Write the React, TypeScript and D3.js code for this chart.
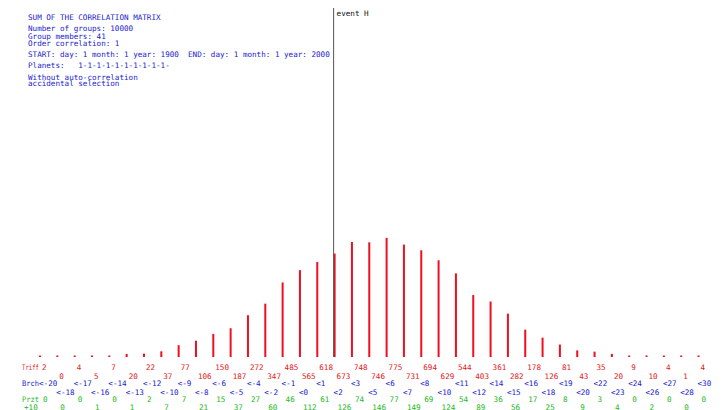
import React, { useEffect, useRef } from 'react';
import * as d3 from 'd3';

// hit counts per class (Triff), class upper bound (Brch) and Przt row
const triff = [2, 0, 4, 5, 7, 20, 22, 37, 77, 106, 150, 187, 272, 347, 485, 565, 618, 673, 748, 746,
  775, 731, 694, 629, 544, 403, 361, 282, 178, 126, 81, 43, 35, 20, 9, 10, 4, 1, 4];
const brch = [-20, -18, -17, -16, -14, -13, -12, -10, -9, -8, -6, -5, -4, -2, -1, 0, 1, 2, 3, 5,
  6, 7, 8, 10, 11, 12, 14, 15, 16, 18, 19, 20, 22, 23, 24, 26, 27, 28, 30];
const przt = [0, 0, 0, 1, 0, 1, 2, 7, 7, 21, 15, 37, 27, 60, 46, 112, 61, 126, 74, 146,
  77, 149, 69, 124, 54, 89, 36, 56, 17, 25, 8, 9, 3, 4, 0, 2, 0, 0, 0];

const headerLines = [
  'SUM OF THE CORRELATION MATRIX',
  'Number of groups: 10000',
  'Group members: 41',
  'Order correlation: 1',
  'START: day: 1 month: 1 year: 1900  END: day: 1 month: 1 year: 2000',
  'Planets:   1-1-1-1-1-1-1-1-1-1-',
  'Without auto-correlation',
  'accidental selection',
];
const headerY = [19.5, 31, 38.5, 45.5, 56.5, 68, 79.5, 85.5];

const eventIndex = 17;
const eventLabel = 'event H';

const App = () => {
  const svgRef = useRef(null);

  useEffect(() => {
    const svg = d3.select(svgRef.current);
    svg.selectAll('*').remove();

    const font = 'DejaVu Sans Mono, monospace';
    const fs = 7.6;
    const base = 357;

    const x = d3.scaleLinear().domain([0, triff.length - 1]).range([40, 40 + 38 * 17.33]);
    const y = d3.scaleLinear().domain([0, 800]).range([base, base - 123]);

    svg.append('rect').attr('width', 724).attr('height', 410).attr('fill', '#fff');

    // header text
    svg.selectAll('.hdr')
      .data(headerLines)
      .join('text')
      .attr('class', 'hdr')
      .attr('x', 28)
      .attr('y', (d, i) => headerY[i])
      .attr('fill', '#1a1ad0')
      .style('font-family', font)
      .style('font-size', fs + 'px')
      .style('white-space', 'pre')
      .text(d => d);

    // bars
    svg.selectAll('.bar')
      .data(triff)
      .join('rect')
      .attr('class', 'bar')
      .attr('x', (d, i) => x(i) - 1)
      .attr('y', d => Math.min(y(d), base - 1.5))
      .attr('width', 2)
      .attr('height', d => Math.max(base - y(d), 1.5))
      .attr('fill', '#ee1020');

    // event line
    svg.append('line')
      .attr('x1', x(eventIndex) - 1)
      .attr('x2', x(eventIndex) - 1)
      .attr('y1', 8)
      .attr('y2', base)
      .attr('stroke', '#555')
      .attr('stroke-width', 1);
    svg.append('text')
      .attr('x', x(eventIndex) + 2)
      .attr('y', 15.5)
      .attr('fill', '#111')
      .style('font-family', font)
      .style('font-size', fs + 'px')
      .text(eventLabel);

    // label rows
    const rows = [
      { name: 'Triff', data: triff, color: '#e01818', y: [370, 378.5], dx: 2, fmt: (v) => String(v) },
      { name: 'Brch', data: brch, color: '#1a1ad0', y: [386, 395], dx: -1, fmt: (v) => '<' + v },
      { name: 'Przt', data: przt, color: '#22b822', y: [401.5, 410], dx: 3, fmt: (v) => String(v) },
    ];

    rows.forEach((r, k) => {
      const g = svg.append('g')
        .attr('fill', r.color)
        .style('font-family', font)
        .style('font-size', fs + 'px');
      g.append('text').attr('x', 22).attr('y', r.y[0])
        .attr('textLength', 17).attr('lengthAdjust', 'spacingAndGlyphs')
        .text(r.name);
      if (k === 2) g.append('text').attr('x', 24).attr('y', r.y[1]).text('+10');
      g.selectAll('.lbl')
        .data(r.data)
        .join('text')
        .attr('class', 'lbl')
        .attr('x', (d, i) => x(i) + r.dx)
        .attr('y', (d, i) => r.y[i % 2])
        .text(d => r.fmt(d));
    });
  }, []);

  return (
    <svg ref={svgRef} width={724} height={410}
      style={{ position: 'absolute', left: 0, top: 0 }} />
  );
};

export default App;
